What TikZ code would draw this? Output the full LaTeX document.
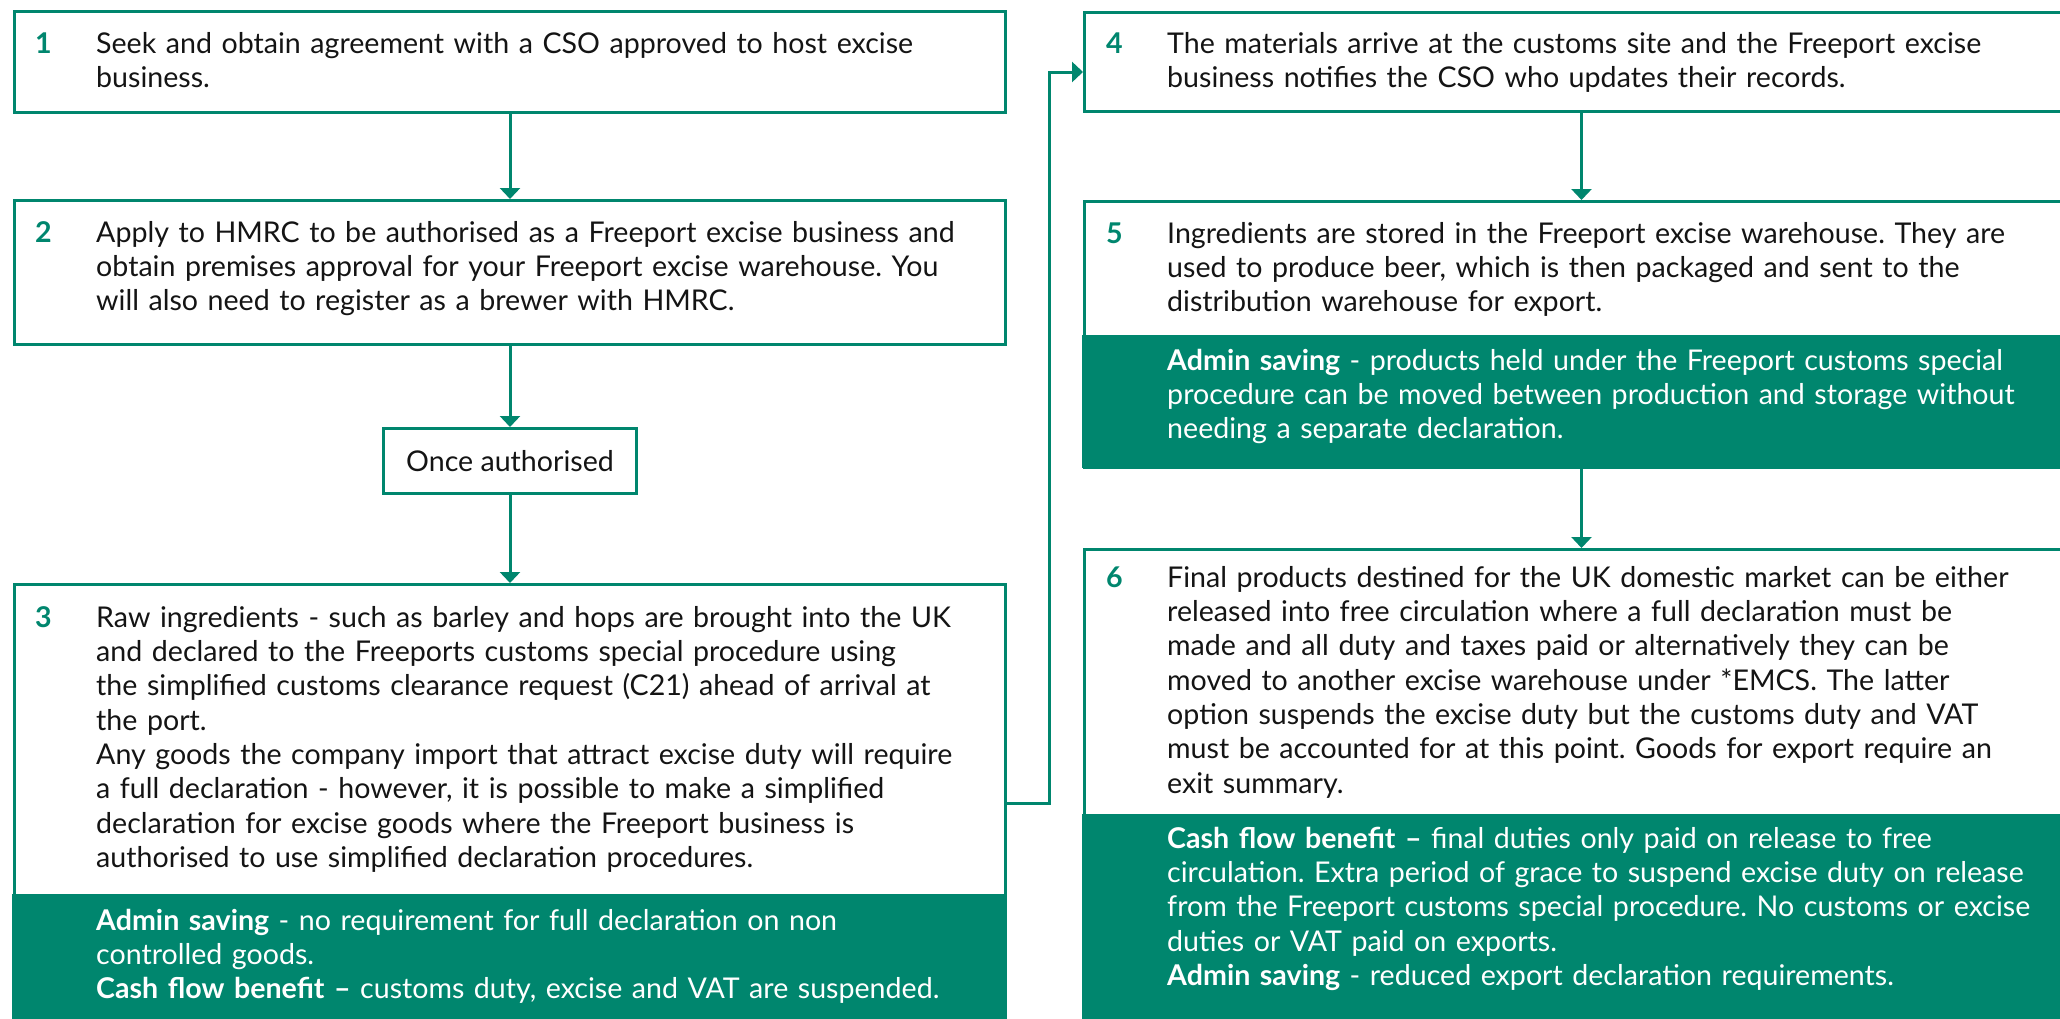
\documentclass[tikz,border=0pt]{standalone}
\usepackage{fontspec}
\setmainfont{Lato}
\usetikzlibrary{positioning,arrows.meta,calc}

\definecolor{hmgreen}{RGB}{0,134,110}
\definecolor{inkcol}{RGB}{20,20,20}
\newcommand\bodyfont{\fontsize{28.7}{34.5}\selectfont\frenchspacing}

\tikzset{
  stepbox/.style={draw=hmgreen, line width=3bp, rectangle, inner sep=0pt, anchor=north west},
  benefit/.style={fill=hmgreen, rectangle, inner sep=0pt, outer sep=0pt, anchor=north west},
  steptext/.style={anchor=base west, inner sep=0pt, text width=960bp, align=left, text=inkcol, font=\bodyfont},
  gaintext/.style={steptext, text=white},
  stepnum/.style={anchor=base west, inner sep=0pt, text=hmgreen, font=\bodyfont\bfseries},
  flow/.style={draw=hmgreen, line width=3bp, -{Triangle[length=11bp,width=20bp]}},
}

\begin{document}
\begin{tikzpicture}
  \useasboundingbox (0,0) rectangle (2060bp,-1019bp);
  %%
  % Left column
  \node[stepbox, minimum width=991bp, minimum height=101bp] (s1) at (13bp,-10bp) {};
  \node[stepbox, minimum width=991bp, minimum height=144bp] (s2) at (13bp,-199bp) {};
  \node[stepbox, minimum width=253bp, minimum height=65bp, font=\bodyfont, text=inkcol] (once) at (382bp,-427bp) {Once authorised};
  \node[stepbox, minimum width=991bp, minimum height=438bp] (s3) at (13bp,-583bp) {};
  \node[benefit, minimum width=994bp, minimum height=130bp] (g3) at (11.5bp,-894bp) {};
  %
  % Right column
  \node[stepbox, minimum width=994bp, minimum height=99bp] (s4) at (1083bp,-11bp) {};
  \node[stepbox, minimum width=994bp, minimum height=266bp] (s5) at (1083bp,-200bp) {};
  \node[benefit, minimum width=997bp, minimum height=132.5bp] (g5) at (1081.5bp,-335bp) {};
  \node[stepbox, minimum width=994bp, minimum height=480bp] (s6) at (1083bp,-548bp) {};
  \node[benefit, minimum width=997bp, minimum height=220bp] (g6) at (1081.5bp,-814bp) {};
  %
  % Step 1
  \node[stepnum] (n1) at ([shift={(22bp,-43bp)}]s1.north west) {1};
  \node[steptext] (t1) at ([shift={(83bp,-43bp)}]s1.north west) {Seek and obtain agreement with a CSO approved to host excise\\business.};
  % Step 2
  \node[stepnum] (n2) at ([shift={(22bp,-43bp)}]s2.north west) {2};
  \node[steptext] (t2) at ([shift={(83bp,-43bp)}]s2.north west) {Apply to HMRC to be authorised as a Freeport excise business and\\obtain premises approval for your Freeport excise warehouse. You\\will also need to register as a brewer with HMRC.};
  % Step 3
  \node[stepnum] (n3) at ([shift={(22bp,-44bp)}]s3.north west) {3};
  \node[steptext] (t3) at ([shift={(83bp,-44bp)}]s3.north west) {Raw ingredients - such as barley and hops are brought into the UK\\and declared to the Freeports customs special procedure using\\the simplified customs clearance request (C21) ahead of arrival at\\the port.\\Any goods the company import that attract excise duty will require\\a full declaration - however, it is possible to make a simplified\\declaration for excise goods where the Freeport business is\\authorised to use simplified declaration procedures.};
  \node[gaintext] (b3) at ([shift={(84.5bp,-36bp)}]g3.north west) {\textbf{Admin saving} - no requirement for full declaration on non\\controlled goods.\\\textbf{Cash flow benefit –} customs duty, excise and VAT are suspended.};
  % Step 4
  \node[stepnum] (n4) at ([shift={(23bp,-42bp)}]s4.north west) {4};
  \node[steptext] (t4) at ([shift={(84bp,-42bp)}]s4.north west) {The materials arrive at the customs site and the Freeport excise\\business notifies the CSO who updates their records.};
  % Step 5
  \node[stepnum] (n5) at ([shift={(23bp,-43bp)}]s5.north west) {5};
  \node[steptext] (t5) at ([shift={(84bp,-43bp)}]s5.north west) {Ingredients are stored in the Freeport excise warehouse. They are\\used to produce beer, which is then packaged and sent to the\\distribution warehouse for export.};
  \node[gaintext] (b5) at ([shift={(85.5bp,-35bp)}]g5.north west) {\textbf{Admin saving} - products held under the Freeport customs special\\procedure can be moved between production and storage without\\needing a separate declaration.};
  % Step 6
  \node[stepnum] (n6) at ([shift={(23bp,-39bp)}]s6.north west) {6};
  \node[steptext] (t6) at ([shift={(84bp,-39bp)}]s6.north west) {Final products destined for the UK domestic market can be either\\released into free circulation where a full declaration must be\\made and all duty and taxes paid or alternatively they can be\\moved to another excise warehouse under *EMCS. The latter\\option suspends the excise duty but the customs duty and VAT\\must be accounted for at this point. Goods for export require an\\exit summary.};
  \node[gaintext] (b6) at ([shift={(85.5bp,-34bp)}]g6.north west) {\textbf{Cash flow benefit –} final duties only paid on release to free\\circulation. Extra period of grace to suspend excise duty on release\\from the Freeport customs special procedure. No customs or excise\\duties or VAT paid on exports.\\\textbf{Admin saving} - reduced export declaration requirements.};
  %
  % Connectors
  \draw[flow] (s1.south) -- (s2.north);
  \draw[flow] (s2.south) -- (once.north);
  \draw[flow] (once.south) -- (s3.north);
  \draw[flow] (s3.east) -- ++(42bp,0) |- ([yshift=-10bp]s4.west);
  \draw[flow] (s4.south) -- (s5.north);
  \draw[flow] (s5.south) -- (s6.north);
\end{tikzpicture}
\end{document}
